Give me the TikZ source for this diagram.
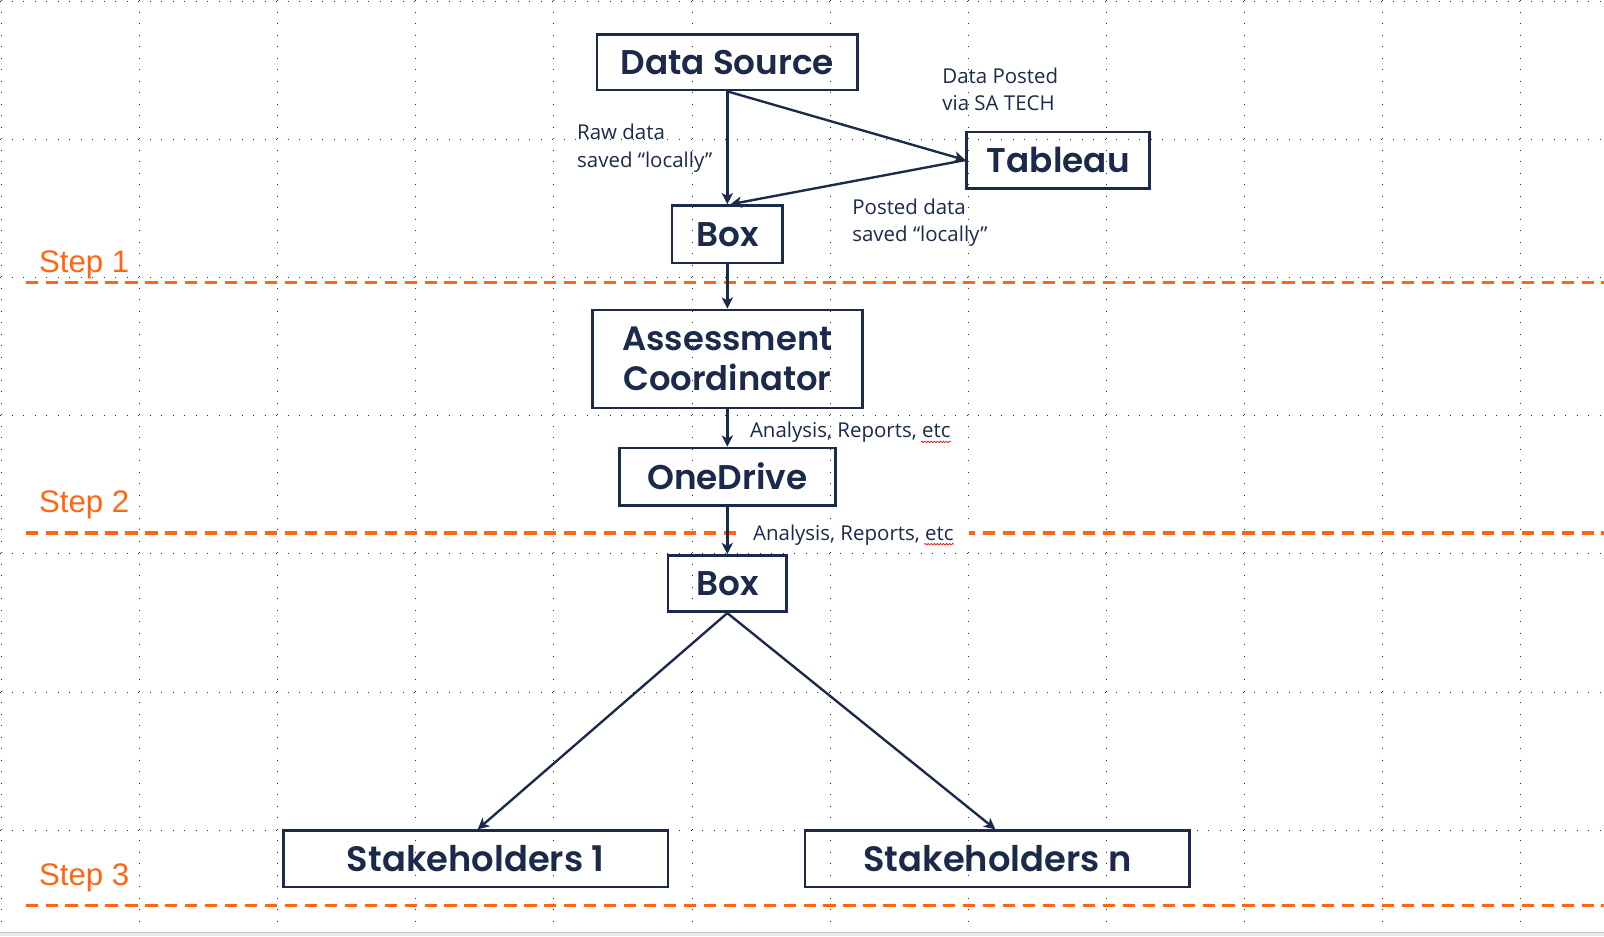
\documentclass[tikz,border=0pt]{standalone}
\usepackage{fontspec}
\usetikzlibrary{arrows.meta,decorations.pathmorphing}
\newfontfamily\boxfont{Poppins SemiBold}
\newfontfamily\lblfont{Open Sans}
\newfontfamily\stepfont{Liberation Sans}
\definecolor{navy}{HTML}{1B2A4A}
\definecolor{orng}{HTML}{FF660F}
\begin{document}
\begin{tikzpicture}[x=1pt,y=-1pt,
  stepbox/.style={draw=navy, line width=2.6pt, text=navy, inner sep=0pt, align=center,
    font=\boxfont\fontsize{33.5}{39}\selectfont},
  conn/.style={draw=navy, line width=2.3pt, -{Stealth[length=11pt,width=11pt,inset=3pt]}},
  lbl/.style={text=navy, inner sep=0pt, align=left, font=\lblfont\fontsize{20}{27}\selectfont},
  steplbl/.style={text=orng, inner sep=0pt, anchor=base west, font=\stepfont\fontsize{30.5}{34}\selectfont},
  stepline/.style={draw=orng, line width=3.2pt, dash pattern=on 12pt off 7.5pt},
  gdots/.style={draw=black!85, line width=0.95pt, dash pattern=on 0.95pt off 10.3pt},
  squig/.style={draw=red, line width=0.6pt, decorate, decoration={snake, amplitude=0.8pt, segment length=3pt}}]
\useasboundingbox (0,0) rectangle (1568,915);
\fill[white] (0,0) rectangle (1568,915);
\fill[gray!18] (0,911) rectangle (1568,915);
\draw[gray!45, line width=0.8pt] (0,911) -- (1568,911);
% background grid
\foreach \k in {0,...,11} \draw[gdots] (1.5+135*\k,0) -- (1.5+135*\k,910);
\foreach \k in {0,...,6} \draw[gdots] (0,1.5+135*\k) -- (1568,1.5+135*\k);
% step separators
\draw[stepline] (25,276) -- (1568,276);
\draw[stepline] (25,521) -- (1568,521);
\draw[stepline] (25,885) -- (1568,885);
\node[steplbl] (st1) at (38,266) {Step 1};
\node[steplbl] (st2) at (38,501) {Step 2};
\node[steplbl] (st3) at (38,866) {Step 3};
% boxes
\node[stepbox, minimum width=255pt, minimum height=54pt] (ds) at (711,61) {Data Source};
\node[stepbox, minimum width=179pt, minimum height=55pt] (tab) at (1034.5,156.5) {Tableau};
\node[stepbox, minimum width=108pt, minimum height=56pt] (box1) at (711,229) {Box};
\node[stepbox, minimum width=264pt, minimum height=96pt, font=\boxfont\fontsize{33}{39}\selectfont] (ac) at (711,351) {Assessment\\Coordinator};
\node[stepbox, minimum width=211pt, minimum height=56pt] (od) at (711,466) {OneDrive};
\node[stepbox, minimum width=116pt, minimum height=55pt] (box2) at (711,570.5) {Box};
\node[stepbox, minimum width=376pt, minimum height=55pt, font=\boxfont\fontsize{34.5}{39}\selectfont] (s1) at (465,839.5) {Stakeholders 1};
\node[stepbox, minimum width=376pt, minimum height=55pt, font=\boxfont\fontsize{34.5}{39}\selectfont] (sn) at (975,839.5) {Stakeholders n};
% labels
\node[lbl, anchor=north west] (raw) at (564,121) {Raw data\\saved “locally”};
\node[lbl, anchor=north west] (dp) at (921,66) {Data Posted\\via SA TECH};
\node[lbl, anchor=north west] (pd) at (833,194) {Posted data\\saved “locally”};
\node[lbl, anchor=base west] (an1) at (733,428) {Analysis, Reports, etc};
\node[lbl, anchor=base west, fill=white, inner xsep=15pt, inner ysep=3pt] (an2) at (721,528) {Analysis, Reports, etc};
\draw[squig] ([xshift=-29pt,yshift=-4pt]an1.base east) -- ([yshift=-4pt]an1.base east);
\draw[squig] ([xshift=-44pt,yshift=-4pt]an2.base east) -- ([xshift=-15pt,yshift=-4pt]an2.base east);
% connectors
\draw[conn] (ds.south) -- (box1.north);
\draw[conn] (ds.south) -- (tab.west);
\draw[conn] (tab.west) -- ([xshift=3pt]box1.north);
\draw[conn] (box1.south) -- (ac.north);
\draw[conn] (ac.south) -- (od.north);
\draw[conn] (od.south) -- (box2.north);
\draw[conn] (box2.south) -- ([xshift=2pt]s1.north);
\draw[conn] (box2.south) -- ([xshift=-2pt]sn.north);
\end{tikzpicture}
\end{document}
